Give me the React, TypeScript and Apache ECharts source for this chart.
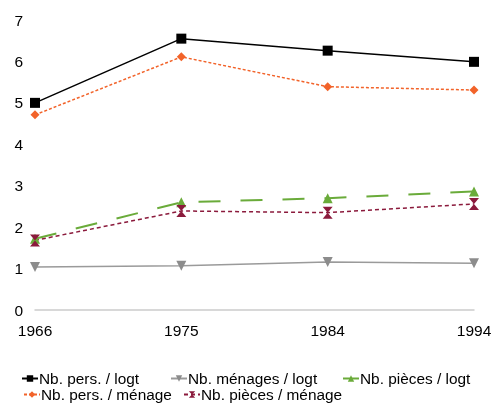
import React, { useEffect, useRef } from "react";
import * as echarts from "echarts";

const years = ["1966", "1975", "1984", "1994"];
const persLogt = [5.0, 6.55, 6.26, 5.99];
const menagesLogt = [1.04, 1.07, 1.16, 1.13];
const piecesLogt = [1.72, 2.6, 2.7, 2.86];
const persMenage = [4.71, 6.11, 5.39, 5.31];
const piecesMenage = [1.68, 2.39, 2.35, 2.56];

const names = [
  "Nb. pers. / logt",
  "Nb. ménages / logt",
  "Nb. pièces / logt",
  "Nb. pers. / ménage",
  "Nb. pièces / ménage",
];

const hourglass = "path://M0,0 L10,0 L5,5 L10,10 L0,10 L5,5 Z";

export default function App() {
  const ref = useRef<HTMLDivElement>(null);
  useEffect(() => {
    const chart = echarts.init(ref.current!, null, { renderer: "svg" });
    const font = "Liberation Sans, Arial, sans-serif";
    const legendPos = [
      { left: 21, top: 371 },
      { left: 170, top: 371 },
      { left: 342, top: 371 },
      { left: 23, top: 387 },
      { left: 183, top: 387 },
    ];
    chart.setOption({
      animation: false,
      textStyle: { fontFamily: font },
      grid: { left: 35, right: 22, top: 20, bottom: 98 },
      legend: names.map((n, i) => ({
        data: [n],
        left: legendPos[i].left,
        top: legendPos[i].top,
        itemWidth: 16,
        itemHeight: 8,
        itemGap: 4,
        padding: 0,
        textStyle: { fontFamily: font, fontSize: 15.4, color: "#000", padding: [0, 0, 0, -4] },
      })),
      xAxis: {
        type: "category",
        data: years,
        boundaryGap: false,
        axisLine: { lineStyle: { color: "#cccccc", width: 1.5 } },
        axisTick: { show: false },
        axisLabel: { color: "#000", fontSize: 15.5, margin: 12, fontFamily: font },
      },
      yAxis: {
        type: "value",
        min: 0,
        max: 7,
        interval: 1,
        axisLine: { show: false },
        axisTick: { show: false },
        splitLine: { show: false },
        axisLabel: { color: "#000", fontSize: 15.5, margin: 12, fontFamily: font },
      },
      series: [
        {
          name: names[0],
          type: "line",
          data: persLogt,
          symbol: "rect",
          symbolSize: 10,
          itemStyle: { color: "#000" },
          lineStyle: { color: "#000", width: 1.5 },
        },
        {
          name: names[1],
          type: "line",
          data: menagesLogt,
          symbol: "triangle",
          symbolRotate: 180,
          symbolSize: 10,
          itemStyle: { color: "#8c8c8c" },
          lineStyle: { color: "#9a9a9a", width: 1.5 },
        },
        {
          name: names[2],
          type: "line",
          data: piecesLogt,
          symbol: "triangle",
          symbolSize: 10,
          itemStyle: { color: "#6aab3a" },
          lineStyle: { color: "#6aab3a", width: 2, type: [22, 20] },
        },
        {
          name: names[3],
          type: "line",
          data: persMenage,
          symbol: "diamond",
          symbolSize: 9,
          itemStyle: { color: "#f2632a" },
          lineStyle: { color: "#f2632a", width: 1.5, type: [3, 2] },
        },
        {
          name: names[4],
          type: "line",
          data: piecesMenage,
          symbol: hourglass,
          symbolSize: [10, 12],
          itemStyle: { color: "#8b1a3c" },
          lineStyle: { color: "#8b1a3c", width: 1.5, type: [4, 3] },
        },
      ],
    });
    return () => chart.dispose();
  }, []);
  return (
    <div
      ref={ref}
      style={{ position: "fixed", left: 0, top: 0, width: 496, height: 408 }}
    />
  );
}
